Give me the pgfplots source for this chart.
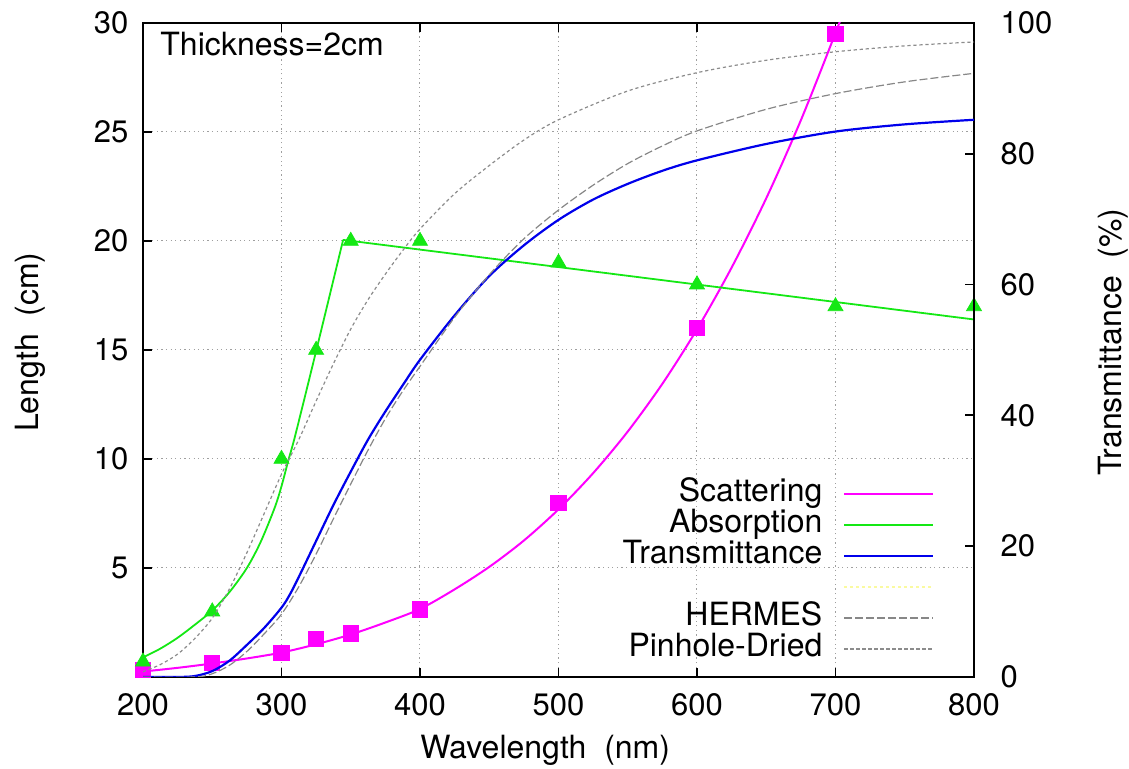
\documentclass[border=0pt]{standalone}
\usepackage{fontspec}
\setmainfont{TeX Gyre Heros}
\usepackage{pgfplots}
\pgfplotsset{compat=1.18}

\definecolor{scat}{RGB}{255,0,255}
\definecolor{absb}{RGB}{20,232,20}
\definecolor{trans}{RGB}{0,0,235}
\definecolor{hermes}{RGB}{135,135,135}
\definecolor{pinhole}{RGB}{140,140,140}
\definecolor{legyel}{RGB}{250,250,160}

\pgfplotsset{
  base/.style={
    width=415.5pt, height=327pt, scale only axis,
    at={(0,0)}, anchor=south west,
    xmin=200, xmax=800,
    /pgf/number format/assume math mode=true,
    tick label style={font=\fontsize{15.5}{18}\selectfont},
    tick align=inside, major tick length=4.5pt,
    axis line style={line width=1pt},
    every tick/.style={black, line width=0.9pt},
  },
}

\begin{document}
\begin{tikzpicture}
% ---------- left axis: lengths in cm ----------
\begin{axis}[base,
  ymin=0, ymax=30,
  xtick={200,300,...,800}, ytick={5,10,...,30},
  xtick pos=both, ytick pos=left,
  xticklabel style={yshift=-4.8pt},
  yticklabel style={xshift=-3.8pt},
  grid=major,
  grid style={gray!75, line width=0.5pt, dash pattern=on 0.6pt off 1.7pt},
  xlabel={Wavelength\ \ (nm)},
  ylabel={Length\ \ (cm)},
  every axis x label/.style={at={(axis description cs:0.484,-0.112)}, anchor=center,
    font=\fontsize{16}{19}\selectfont},
  every axis y label/.style={at={(axis description cs:-0.136,0.512)}, anchor=center, rotate=90,
    font=\fontsize{16}{19}\selectfont},
]
% scattering length fit
\addplot[scat, line width=1pt, smooth] coordinates {
 (200,0.25) (225,0.42) (250,0.62) (275,0.85) (300,1.12) (325,1.50) (350,1.95)
 (375,2.50) (400,3.12) (425,4.02) (450,5.05) (475,6.26) (500,7.69) (525,9.35)
 (550,11.26) (575,13.45) (600,15.95) (625,18.78) (650,21.96) (675,25.54)
 (700,29.54) (710,31.27)};
% scattering length data
\addplot[only marks, mark=square*, mark size=3.8pt, color=scat] coordinates {
 (200,0.32) (250,0.64) (300,1.1) (325,1.74) (350,2.0) (400,3.1) (500,8.0) (600,16.0) (700,29.5)};
% absorption length fit: curved rise, then straight fall
\addplot[absb, line width=0.9pt, smooth] coordinates {
 (200,0.9) (212.5,1.3) (225,1.8) (237.5,2.4) (250,3.05) (262.5,3.9) (275,5.0)
 (285,6.2) (295,7.75) (300,8.75) (305,9.95) (310,11.1) (325,14.95) (344.5,20.05)};
\addplot[absb, line width=0.9pt] coordinates {(344.5,20.05) (800,16.4)};
% absorption length data
\addplot[only marks, mark=triangle*, mark size=4.3pt, color=absb] coordinates {
 (200,0.7) (250,3) (300,10) (325,15) (350,20) (400,20) (500,19) (600,18) (700,17) (800,17)};
\node[anchor=base west, inner sep=0pt, font=\fontsize{16}{19}\selectfont]
  at (axis description cs:0.0205,0.951) {Thickness=2cm};
\end{axis}

% ---------- right axis: transmittance in % ----------
\begin{axis}[base,
  ymin=0, ymax=100,
  ytick={0,20,...,100},
  axis y line*=right, axis x line=none,
  yticklabel style={anchor=west, xshift=9.8pt},
  ylabel={Transmittance\ \ (\%)},
  every axis y label/.style={at={(axis description cs:1.167,0.512)}, anchor=center, rotate=90,
    font=\fontsize{16}{19}\selectfont},
  legend plot pos=right,
  legend cell align=right,
  legend image code/.code={\draw[#1] (0pt,0pt) -- (44.5pt,0pt);},
  legend style={draw=none, fill=none, inner sep=0pt,
    at={(axis description cs:0.953,0.304)}, anchor=north east,
    font=\fontsize{16}{19}\selectfont, column sep=10.5pt,
    nodes={inner sep=0pt, text height=11.5pt, text depth=4pt}},
]
\addlegendimage{scat, line width=1pt}
\addlegendentry{Scattering}
\addlegendimage{absb, line width=0.9pt}
\addlegendentry{Absorption}
\addplot[trans, line width=1.1pt, smooth] coordinates {
 (200,0) (225,0) (237.5,0.15) (250,0.9) (262.5,2.5) (275,4.9) (287.5,7.5)
 (300,10.6) (306,12.6) (312.5,15.3) (325,20.8) (337.5,26.3) (350,31.4) (362.5,36.3)
 (375,40.6) (387.5,44.6) (400,48.5) (425,55.3) (450,61.3) (475,66) (500,69.9)
 (525,73) (550,75.4) (575,77.4) (600,79) (650,81.5) (700,83.4) (750,84.5) (800,85.2)};
\addlegendentry{Transmittance}
\addlegendimage{legyel, line width=0.8pt, dash pattern=on 1.5pt off 1.5pt}
\addlegendentry{}
\addplot[hermes, line width=0.6pt, dash pattern=on 4pt off 1.5pt, smooth] coordinates {
 (200,0) (237.5,0) (250,0.5) (262.5,1.8) (275,3.9) (287.5,6.6) (300,9.6)
 (312.5,13.8) (325,18.8) (337.5,24.2) (350,29.5) (362.5,34.7) (375,39.5)
 (387.5,43.7) (400,47.5) (425,55) (450,61.5) (475,67) (500,71.4) (525,75.2)
 (550,78.5) (575,81.2) (600,83.5) (650,86.8) (700,89.2) (750,91) (800,92.3)};
\addlegendentry{HERMES}
\addplot[pinhole, line width=0.6pt, dash pattern=on 1.6pt off 1.4pt, smooth] coordinates {
 (200,0.8) (212.5,1.9) (225,3.5) (237.5,5.9) (250,9.0) (262.5,13.5) (275,19.0)
 (287.5,25.0) (300,31.0) (312.5,36.3) (325,42.2) (337.5,47.9) (350,53.2)
 (362.5,57.7) (375,61.6) (387.5,65.2) (400,68.5) (425,73.9) (450,78.2)
 (475,82.1) (500,85.2) (550,89.6) (600,92.4) (650,94.3) (700,95.6) (750,96.5) (800,97.1)};
\addlegendentry{Pinhole-Dried}
\end{axis}
\pgfresetboundingbox
\path (-71.5pt,-46pt) rectangle (493pt,338.5pt);
\end{tikzpicture}
\end{document}
